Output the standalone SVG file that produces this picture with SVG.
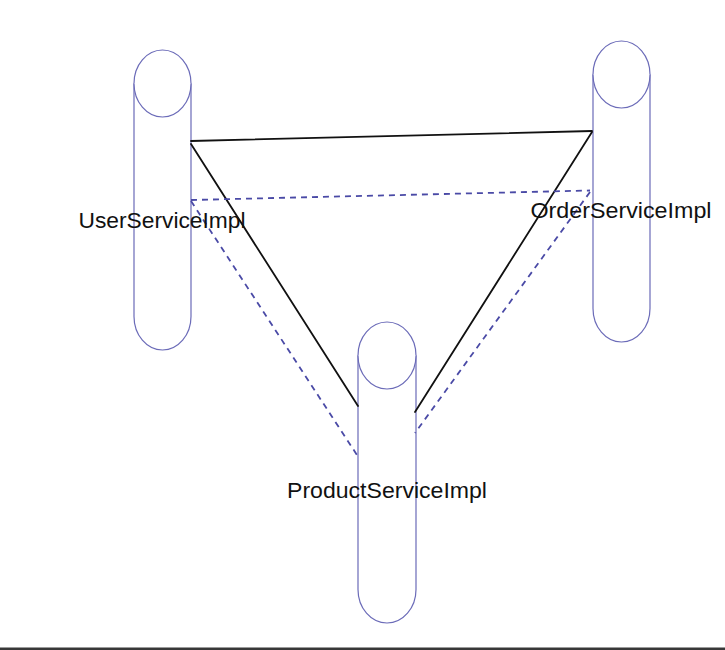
<svg xmlns="http://www.w3.org/2000/svg" width="725" height="650" viewBox="0 0 725 650">
  <style>
    .cyl { fill: #ffffff; stroke: #6b6bb8; stroke-width: 1.2; }
    .solid { stroke: #111111; stroke-width: 1.8; fill: none; stroke-linecap: round; }
    .dash { stroke: #4a4aa6; stroke-width: 1.8; fill: none; stroke-dasharray: 6 5; }
    .lbl { font-family: "Liberation Sans", Arial, Helvetica, sans-serif; font-size: 22px; fill: #111111; text-anchor: middle; }
  </style>
  <rect x="0" y="0" width="725" height="650" fill="#ffffff"/>

  <g id="UserServiceImpl">
    <path class="cyl" d="M134,83.5 A28.5,33.5 0 0 1 191,83.5 L191,316.5 A28.5,33.5 0 0 1 134,316.5 Z"/>
    <path class="cyl" fill="none" d="M134,83.5 A28.5,33.5 0 0 0 191,83.5"/>
  </g>

  <g id="OrderServiceImpl">
    <path class="cyl" d="M593,74.5 A28.5,33.5 0 0 1 650,74.5 L650,308.5 A28.5,33.5 0 0 1 593,308.5 Z"/>
    <path class="cyl" fill="none" d="M593,74.5 A28.5,33.5 0 0 0 650,74.5"/>
  </g>

  <g id="ProductServiceImpl">
    <path class="cyl" d="M358,355.5 A29,33.5 0 0 1 416,355.5 L416,589.5 A29,33.5 0 0 1 358,589.5 Z"/>
    <path class="cyl" fill="none" d="M358,355.5 A29,33.5 0 0 0 416,355.5"/>
  </g>

  <g id="connectors">
    <line class="solid" x1="191" y1="141" x2="592" y2="131"/>
    <line class="solid" x1="191" y1="144" x2="358" y2="406"/>
    <line class="solid" x1="592" y1="132" x2="415" y2="412"/>
    <line class="dash" x1="191" y1="200" x2="590" y2="190.5"/>
    <line class="dash" x1="191" y1="201" x2="357" y2="455"/>
    <line class="dash" x1="590" y1="192" x2="415" y2="433"/>
  </g>

  <g id="labels">
    <text class="lbl" x="162" y="228" textLength="167" lengthAdjust="spacingAndGlyphs">UserServiceImpl</text>
    <text class="lbl" x="621" y="218" textLength="181" lengthAdjust="spacingAndGlyphs">OrderServiceImpl</text>
    <text class="lbl" x="387" y="498" textLength="200" lengthAdjust="spacingAndGlyphs">ProductServiceImpl</text>
  </g>

  <rect x="0" y="647.5" width="725" height="2.5" fill="#383838"/>
</svg>
